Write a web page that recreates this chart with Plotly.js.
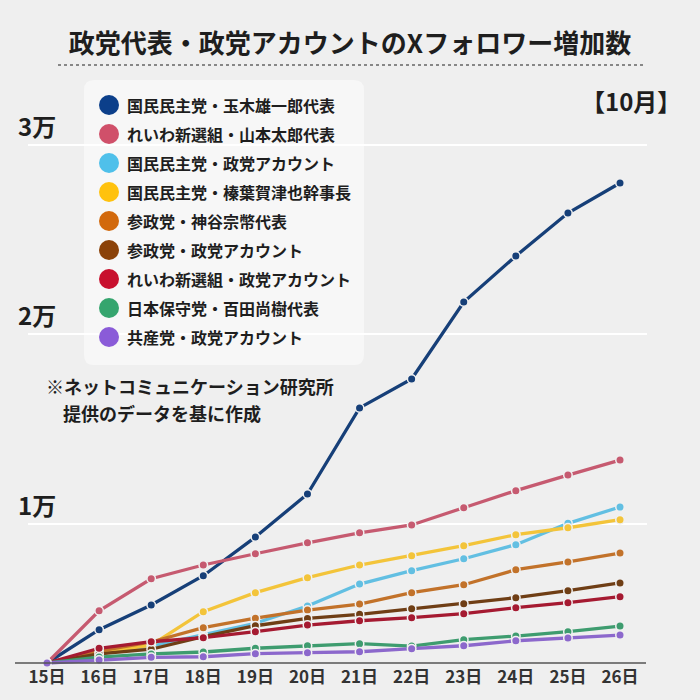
<!DOCTYPE html>
<html>
<head>
<meta charset="utf-8">
<script src="https://cdn.plot.ly/plotly-3.0.1.min.js"></script>
<style>html,body{margin:0;padding:0;background:#efefef;}#chart{width:700px;height:700px;}</style>
</head>
<body>
<div id="chart"></div>
<script>
// ---- data ----
const days = ['15日','16日','17日','18日','19日','20日','21日','22日','23日','24日','25日','26日'];
const seriesNames = [
  '国民民主党・玉木雄一郎代表',
  'れいわ新選組・山本太郎代表',
  '国民民主党・政党アカウント',
  '国民民主党・榛葉賀津也幹事長',
  '参政党・神谷宗幣代表',
  '参政党・政党アカウント',
  'れいわ新選組・政党アカウント',
  '日本保守党・百田尚樹代表',
  '共産党・政党アカウント'
];
const tamaki   = [0, 2400, 4170, 6280, 9060, 12160, 18350, 20430, 25970, 29280, 32370, 34530];
const yamamoto = [0, 3760, 6060, 7050, 7860, 8650, 9370, 9930, 11170, 12400, 13520, 14600];
const dppParty = [0, 790, 1220, 2010, 2860, 4100, 5680, 6640, 7500, 8510, 10050, 11220];
const shinba   = [0, 720, 1290, 3690, 5060, 6140, 7050, 7720, 8440, 9230, 9730, 10310];
const kamiya   = [0, 860, 1510, 2540, 3220, 3810, 4240, 5060, 5630, 6710, 7270, 7910];
const sanseiParty = [0, 650, 990, 1890, 2680, 3210, 3500, 3910, 4270, 4700, 5200, 5760];
const reiwaParty  = [0, 1060, 1530, 1820, 2250, 2730, 3040, 3260, 3550, 3980, 4340, 4770];
const hyakuta  = [0, 430, 650, 790, 1060, 1240, 1390, 1220, 1680, 1940, 2250, 2660];
const jcpParty = [0, 220, 410, 450, 670, 740, 810, 1030, 1240, 1600, 1800, 2010];
const seriesValues = [tamaki, yamamoto, dppParty, shinba, kamiya, sanseiParty, reiwaParty, hyakuta, jcpParty];
const yTickLabels = ['1万', '2万', '3万'];

// ---- styles ----
const FONT = '"Noto Sans CJK JP", "Noto Sans", sans-serif';
const lineColors = ['#163f78','#c65a70','#62bfe2','#f3c43a','#c2722a','#6f3e15','#a51a31','#3e9c6f','#8c68cc'];
const dotColors  = ['#0c3f8a','#d0506a','#4fc0ea','#ffc20e','#d2690c','#8b4208','#c8102e','#35a56e','#8a5bd8'];
const W = 700, H = 700, ML = 28, MR = 53, MT = 100, MB = 35;
const PW = W - ML - MR, PH = H - MT - MB;
const px = x => (x - ML) / PW;
const py = y => (H - MB - y) / PH;
const yPerPx = 10000 / 139;
const yRange = [-(2) * yPerPx, (663 - MT) * yPerPx];
const tickPix = [524, 334, 145];
const tickVals = tickPix.map(p => (663 - p) * yPerPx);

const traces = seriesValues.map((vals, i) => ({
  type: 'scatter', mode: 'lines+markers', x: days, y: vals, name: seriesNames[i],
  line: {color: lineColors[i], width: 3.3},
  marker: {color: lineColors[i], size: 8.5, line: {color: '#f0f0f0', width: 1.5}},
  cliponaxis: false, showlegend: false
}));

const shapes = [];
const annotations = [];
// title underline (dotted)
shapes.push({type: 'line', xref: 'paper', yref: 'paper', x0: px(58), x1: px(645), y0: py(65), y1: py(65),
  line: {color: '#666', width: 1.5, dash: 'dot'}});
// baseline
shapes.push({type: 'line', xref: 'paper', yref: 'y', x0: px(15), x1: px(646), y0: 0, y1: 0,
  line: {color: '#555', width: 1.5}});
// legend box (rounded)
(function(){
  const x0 = 84, x1 = 364, y0 = 80, y1 = 365, r = 10;
  const P = (x, y) => px(x) + ',' + py(y);
  const path = 'M' + P(x0 + r, y0) + ' L' + P(x1 - r, y0) + ' Q' + P(x1, y0) + ' ' + P(x1, y0 + r) +
    ' L' + P(x1, y1 - r) + ' Q' + P(x1, y1) + ' ' + P(x1 - r, y1) +
    ' L' + P(x0 + r, y1) + ' Q' + P(x0, y1) + ' ' + P(x0, y1 - r) +
    ' L' + P(x0, y0 + r) + ' Q' + P(x0, y0) + ' ' + P(x0 + r, y0) + ' Z';
  shapes.push({type: 'path', xref: 'paper', yref: 'paper', path: path, fillcolor: '#f7f7f7',
    line: {width: 0}, layer: 'between'});
})();
// legend items
seriesNames.forEach((name, i) => {
  const cy = 105 + 29 * i;
  shapes.push({type: 'circle', xref: 'paper', yref: 'paper', x0: px(99), x1: px(119), y0: py(cy + 10), y1: py(cy - 10),
    fillcolor: dotColors[i], line: {width: 0}, layer: 'above'});
  annotations.push({xref: 'paper', yref: 'paper', x: px(125), y: py(cy), xanchor: 'left', yanchor: 'middle',
    text: name, showarrow: false, font: {family: FONT, size: 16, color: '#1e1e1e', weight: 700}});
});
// y tick labels
yTickLabels.forEach((t, i) => {
  annotations.push({xref: 'paper', yref: 'y', x: px(16), y: tickVals[i], xanchor: 'left', yanchor: 'bottom', yshift: 0,
    text: t, showarrow: false, font: {family: FONT, size: 24, color: '#1e1e1e', weight: 700}});
});
// note
annotations.push({xref: 'paper', yref: 'paper', x: px(44), y: py(386), xanchor: 'left', yanchor: 'middle',
  text: '※ネットコミュニケーション研究所', showarrow: false, font: {family: FONT, size: 18, color: '#1e1e1e', weight: 700}});
annotations.push({xref: 'paper', yref: 'paper', x: px(61), y: py(413), xanchor: 'left', yanchor: 'middle',
  text: '提供のデータを基に作成', showarrow: false, font: {family: FONT, size: 18, color: '#1e1e1e', weight: 700}});
// month tag
annotations.push({xref: 'paper', yref: 'paper', x: px(631), y: py(100), xanchor: 'center', yanchor: 'middle',
  text: '【10月】', showarrow: false, font: {family: FONT, size: 24, color: '#1e1e1e', weight: 700}});

const layout = {
  width: W, height: H,
  paper_bgcolor: '#efefef', plot_bgcolor: '#efefef',
  margin: {l: ML, r: MR, t: MT, b: MB},
  title: {text: '政党代表・政党アカウントのXフォロワー増加数', x: 0.5, xanchor: 'center', xref: 'container',
    y: 1 - 44 / H, yanchor: 'middle', yref: 'container',
    font: {family: FONT, size: 26, color: '#1e1e1e', weight: 700}},
  xaxis: {type: 'category', range: [-0.365, 11.518], showgrid: false, zeroline: false, showline: false,
    ticks: '', tickfont: {family: FONT, size: 17, color: '#333', weight: 700}, fixedrange: true},
  yaxis: {range: yRange, tickvals: tickVals, showticklabels: false, showgrid: true, gridcolor: '#ffffff',
    gridwidth: 2, zeroline: false, showline: false, fixedrange: true},
  showlegend: false,
  shapes: shapes,
  annotations: annotations,
  hovermode: 'closest'
};

Plotly.newPlot('chart', traces, layout, {displayModeBar: false, staticPlot: true});
</script>
</body>
</html>
